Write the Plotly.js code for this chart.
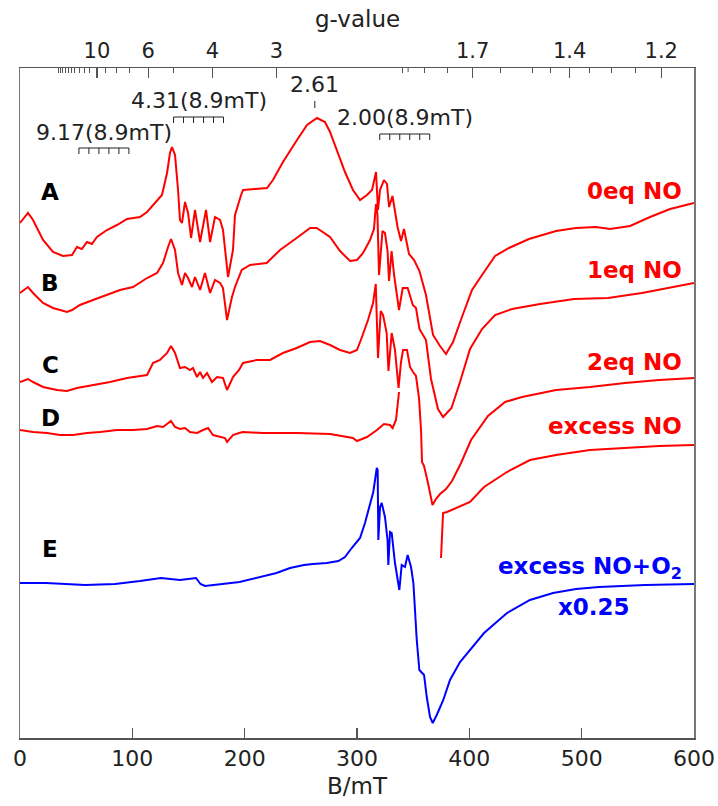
<!DOCTYPE html>
<html><head><meta charset="utf-8">
<script src="https://cdn.plot.ly/plotly-3.0.1.min.js"></script>
<style>html,body{margin:0;padding:0;background:#fff}#chart{width:718px;height:806px}</style>
</head><body><div id="chart"></div>
<script>
// Magnetic field (mT) and intensity (arb. units, stacked)
const fieldA = [0,7.1,11.6,20.5,29.4,38.3,46.3,50.7,55.0,59.6,64.0,68.5,77.4,86.3,95.3,106.8,113.1,121.9,126.4,130.9,133.5,135.3,138.0,140.7,142.4,144.2,146.9,149.6,152.3,155.8,160.3,165.6,169.2,173.6,178.1,180.7,185.2,189.6,191.4,196.8,198.6,209.2,219.9,225.2,234.1,246.6,255.5,264.4,271.5,276.0,282.2,289.3,296.4,302.7,308.9,313.4,316.9,318.7,320.5,324.0,326.7,328.5,331.6,336.1,339.2,341.8,346.3,350.8,355.6,361.4,367.7,373.9,379.2,385.5,393.1,402.4,411.3,422.9,435.3,453.1,477.2,494.9,512.8,525.3,543.1,560.9,578.7,600];
const intA = [515,525,518,498,486,482,483,491,489,496,494,501,508,513,519,521,526,538,543,565,585,591,583,548,518,515,536,525,500,528,496,528,496,521,518,508,461,488,523,543,548,549,550,558,576,598,613,620,616,606,588,566,548,538,543,548,566,528,548,558,554,531,542,511,497,509,484,478,467,443,403,392,384,396,420,448,463,482,490,499,507,510,511,509,512,521,529,535];

const fieldB = [0,7.1,11.6,20.5,29.4,41.8,46.3,53.4,65.0,77.4,89.0,100.6,113.1,122.0,127.3,131.8,134.4,138.0,140.7,144.2,146.9,149.6,153.1,155.8,160.3,164.7,169.2,173.6,178.1,180.7,184.3,188.7,191.4,197.4,204.8,219.6,231.5,246.3,258.2,264.1,276.0,284.9,293.8,300.0,305.4,311.6,315.1,316.9,318.2,319.6,321.4,322.7,324.9,327.2,328.5,330.8,333.0,337.4,340.7,345.1,349.7,352.5,355.6,361.4,365.9,372.1,376.6,384.1,391.7,400.6,411.3,422.9,438.0,462.9,493.2,523.5,553.7,584.0,600];
const intB = [445,451,445,435,430,426,428,433,438,443,448,451,460,465,475,491,499,488,465,453,465,460,451,461,448,465,445,458,455,450,418,441,451,468,473,475,488,500,510,510,501,487,477,478,485,498,509,534,524,463,494,507,505,487,457,487,463,428,450,450,433,430,409,398,359,329,321,330,356,389,409,423,429,434,439,440,445,452,455];

const fieldC = [0,7.1,11.6,20.5,32.9,41.8,50.7,65.0,80.1,95.3,113.1,118.4,124.6,130.9,134.4,138.0,142.4,146.9,151.3,154.0,157.6,160.3,162.9,166.5,170.9,175.4,180.7,184.3,189.6,195.0,198.5,210.7,222.6,234.1,246.3,258.2,267.1,276.0,284.9,293.8,300.0,304.4,309.8,314.3,316.7,318.7,321.1,323.2,326.4,328.0,330.9,333.8,337.0,339.2,341.0,344.5,347.2,349.9,352.5,355.2,357.0,357.9,359.7,363.2,367.2,370.3,373.9,379.2,384.6,392.6,401.5,416.6,431.8,446.9,477.2,507.4,538.6,568.9,600];
const intC = [356,359,356,351,348,347,350,353,356,360,363,375,378,385,392,385,370,371,368,370,361,366,360,365,356,361,360,348,361,368,375,378,378,385,390,396,397,393,388,385,388,401,418,435,454,380,427,423,405,367,405,388,350,376,388,388,371,366,362,340,308,276,272,255,233,239,244,249,257,275,298,322,336,341,348,351,355,358,360];

const fieldD = [0,11.6,24.0,35.6,47.2,59.6,71.2,86.4,100.6,113.1,122.0,127.3,134.4,138.0,142.4,146.9,151.3,157.6,162.9,167.4,171.8,178.1,182.5,184.3,189.6,195.0,198.5,216.3,246.6,276.0,296.4,300.0,308.9,317.8,324.0,329.4,331.7,334.7,336.1,337.4,null,374.8,376.6,380.1,388.1,400.6,413.1,433.5,454.0,477.2,507.4,538.6,568.9,600];
const intD = [308,306,305,303,303,305,306,308,308,309,312,311,317,311,309,310,306,305,308,310,303,301,300,296,303,305,306,305,305,304,300,297,301,308,314,313,310,318,332,346,null,180,225,226,230,236,251,266,278,283,288,290,292,293];

const fieldE = [0,23.1,57.9,84.6,106.8,125.5,142.4,156.7,160.7,164.7,195.5,228.3,240.4,252.8,260.8,273.0,283.4,289.3,295.3,302.7,307.1,311.6,314.5,317.6,318.4,319.0,320.5,322.0,324.9,327.2,327.9,329.4,330.9,333.8,337.7,339.8,342.7,345.1,348.1,350.2,351.6,353.2,355.5,357.6,359.7,362.1,365.0,367.4,371.0,376.8,382.8,391.7,413.1,433.5,454.0,474.5,495.0,515.4,556.4,600];
const intE = [155,155,153,154,157,160,158,160,154,152,156,165,170,173,174,175,177,181,190,200,215,233,246,270,268,198,231,235,221,198,173,206,205,175,148,173,171,183,171,155,125,98,68,65,63,41,21,15,23,38,58,76,105,125,138,145,149,151,153,154];

// top axis: g-values
const gFactor = 685;          // B(mT) * g for this microwave frequency
const gMajor = [10,6,4,3,1.7,1.4,1.2];
const gMinor = [20,19,18,17,16,15,14,13,12,11,9,8,7,5,1.9,1.8,1.6,1.5,1.45,1.35,1.3,1.25];
// hyperfine sextet markers
const hfG = [9.17,4.31,2.00];
const hfLabel = ['9.17(8.9mT)','4.31(8.9mT)','2.00(8.9mT)'];
const hfSplit = 8.9;
const hfBarY = [590,621,604];
const hfTextY = [606,638,621];
const markG = 2.61;

const leftLabels = ['A','B','C','D','E'];
const leftY = [546,455,373,320,189];
const rightLabels = ['0eq NO','1eq NO','2eq NO','excess NO','excess NO+O<sub>2</sub>','x0.25'];
const rightY = [547,468,376,312,170,131];

const red = '#ff0000', blue = '#0000ff', axc = '#555', txt = '#222';
const FONT = 'DejaVu Sans, Noto Sans, sans-serif';

function tr(x,y,c){return {x:x,y:y,mode:'lines',line:{color:c,width:2},hoverinfo:'skip',showlegend:false,connectgaps:false,cliponaxis:true};}
const data = [tr(fieldA,intA,red),tr(fieldB,intB,red),tr(fieldC,intC,red),tr(fieldD,intD,red),tr(fieldE,intE,blue),
  {x:[],y:[],xaxis:'x2',yaxis:'y',mode:'lines',showlegend:false,hoverinfo:'skip'}];

const shapes = [];
const annotations = [];
hfG.forEach((g,i)=>{
  const c = gFactor/g, s = c-2.5*hfSplit, e = c+2.5*hfSplit;
  shapes.push({type:'line',xref:'x',yref:'y',x0:s,x1:e,y0:hfBarY[i],y1:hfBarY[i],line:{color:txt,width:1}});
  for(let k=0;k<6;k++){const xx=s+k*hfSplit;
    shapes.push({type:'line',xref:'x',yref:'y',x0:xx,x1:xx,y0:hfBarY[i],y1:hfBarY[i]-6,line:{color:txt,width:1}});}
  annotations.push({x:c,y:hfTextY[i],xref:'x',yref:'y',text:hfLabel[i],showarrow:false,
    font:{family:FONT,size:22,color:txt},xanchor:'center',yanchor:'middle'});
});
// g=2.61 marker
const bm = gFactor/markG;
shapes.push({type:'line',xref:'x',yref:'y',x0:bm,x1:bm,y0:630,y1:637,line:{color:txt,width:1}});
annotations.push({x:bm,y:654,xref:'x',yref:'y',text:'2.61',showarrow:false,font:{family:FONT,size:22,color:txt},xanchor:'center',yanchor:'middle'});
// axis break on g scale near g=2
const bb = gFactor/2.0;
shapes.push({type:'rect',xref:'x',yref:'y',x0:bb-2,x1:bb+3,y0:667,y1:673,fillcolor:'#fff',line:{width:0},layer:'above'});
shapes.push({type:'line',xref:'x',yref:'y',x0:bb-2,x1:bb-2,y0:670,y1:665,line:{color:axc,width:1},layer:'above'});
shapes.push({type:'line',xref:'x',yref:'y',x0:bb+3,x1:bb+3,y0:671,y1:666,line:{color:axc,width:1},layer:'above'});

leftLabels.forEach((t,i)=>annotations.push({x:27,y:leftY[i],xref:'x',yref:'y',text:'<b>'+t+'</b>',showarrow:false,
  font:{family:FONT,size:23,color:'#000'},xanchor:'center',yanchor:'middle'}));
rightLabels.forEach((t,i)=>{
  const isBlue = i>=4;
  annotations.push({x: i===5 ? 511 : 591, y:rightY[i], xref:'x',yref:'y',text:'<b>'+t+'</b>',showarrow:false,
    font:{family:FONT,size:23,color:isBlue?blue:red},xanchor:i===5?'center':'right',yanchor:'middle'});
});
annotations.push({x:0.5,xref:'paper',y:1.073,yref:'paper',text:'g-value',showarrow:false,font:{family:FONT,size:23,color:txt},yanchor:'middle'});
annotations.push({x:0.5,xref:'paper',y:-0.072,yref:'paper',text:'B/mT',showarrow:false,font:{family:FONT,size:23,color:txt},yanchor:'middle'});

const layout = {
  width:718,height:806,margin:{l:20,r:24,t:68,b:68},showlegend:false,
  paper_bgcolor:'#fff',plot_bgcolor:'#fff',
  xaxis:{range:[0,600],tickvals:[0,100,200,300,400,500,600],ticks:'inside',ticklen:10,tickwidth:1.3,tickcolor:axc,
    showline:true,linecolor:axc,linewidth:1.5,showgrid:false,zeroline:false,
    tickfont:{family:FONT,size:22,color:txt}},
  xaxis2:{overlaying:'x',side:'top',anchor:'y',range:[0,600],tickmode:'array',
    tickvals:gMajor.map(g=>gFactor/g),ticktext:gMajor.map(String),ticks:'inside',ticklen:10,tickwidth:1.3,tickcolor:axc,
    showline:true,linecolor:axc,linewidth:1.5,showgrid:false,zeroline:false,
    tickfont:{family:FONT,size:21,color:txt},
    minor:{tickmode:'array',tickvals:gMinor.map(g=>gFactor/g),ticks:'inside',ticklen:5,tickwidth:1,tickcolor:axc,showgrid:false}},
  yaxis:{range:[0,670],showline:true,mirror:true,linecolor:'#777',linewidth:1.5,ticks:'',showticklabels:false,showgrid:false,zeroline:false},
  shapes:shapes,annotations:annotations
};
Plotly.newPlot('chart',data,layout,{displayModeBar:false,staticPlot:true});
</script></body></html>
